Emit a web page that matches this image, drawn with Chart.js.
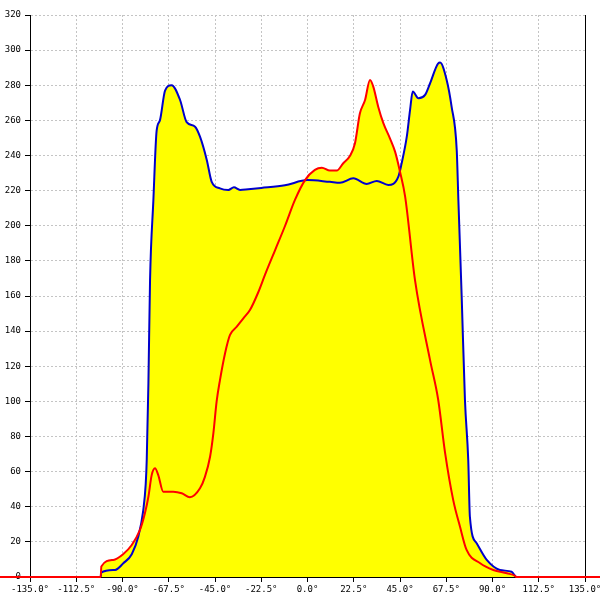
<!DOCTYPE html>
<html>
<head>
<meta charset="utf-8">
<script src="https://cdn.jsdelivr.net/npm/chart.js@4"></script>
<style>
  body { margin: 0; background: #fff; }
</style>
</head>
<body>
<canvas id="chart" width="600" height="600"></canvas>
<script>
// angles in degrees
const blueAngles = [-150, -100.6, -100.4, -93.6, -89.6, -85.5, -82.3, -79.9, -78.7, -78.2, -77.4, -76.6, -75, -73.4, -71.8, -69.3, -66.1, -62, -58.8, -54.7, -52.3, -49, -46.6, -42.6, -38.5, -35.8, -32.8, -28.8, -22.5, -11, 0, 10.9, 15.8, 22.3, 28.8, 33.7, 39.3, 44.2, 45.8, 48.3, 49.9, 51.2, 54, 57.2, 59.6, 63.6, 64.5, 67.7, 70.1, 72.6, 73.4, 75, 76.6, 78.2, 79, 82.3, 87.2, 93.6, 99.3, 101, 101.5, 150];
const blueValues = [0, 0, 2.5, 4, 7.8, 13, 23, 38, 53, 67, 110, 169, 214, 254, 260, 277, 280, 271.6, 259, 256.4, 250.7, 237.5, 225, 221.3, 220.4, 221.9, 220.4, 220.8, 221.5, 223, 226, 225, 224.5, 227, 223.8, 225.5, 223.2, 228, 235.6, 250.7, 266, 276.4, 272.6, 274.5, 281, 292.5, 292.9, 283, 267.8, 243, 214.7, 160, 100.8, 66.6, 34.3, 19.2, 9.7, 4, 3, 0.6, 0, 0];

const redAngles = [-150, -100.6, -100.3, -94.5, -89.6, -85.5, -81.5, -79.1, -77.4, -75.8, -74.2, -72.6, -70.2, -65.3, -61.2, -57.2, -52.3, -49.9, -47.4, -45.8, -44.2, -42.6, -40.1, -37.7, -34.4, -31.2, -28, -24, -20.7, -15.8, -10.9, -6.1, -1.2, 3.6, 7, 10.9, 14.2, 17.4, 20.7, 23.1, 25.5, 28, 30.4, 32, 34.4, 36.9, 40.1, 42.6, 45, 47.5, 52.3, 59.6, 63.6, 66.9, 70.9, 74.2, 77.4, 84, 90.4, 97, 101, 101.5, 150];
const redValues = [0, 0, 6, 9.7, 13.1, 18.2, 26.8, 36.3, 45.7, 58, 61.9, 58, 48.6, 48.6, 47.7, 45.4, 50.5, 57, 68.5, 81.8, 100, 112, 127.4, 137.8, 142.5, 147.3, 152, 162, 172, 186, 200, 214.7, 226, 231.8, 233, 231.4, 231.4, 235.6, 239.8, 247, 264, 271.6, 283, 279.2, 267.8, 258.4, 249.8, 242.2, 230.8, 216.6, 169, 123.6, 100.8, 71, 43.8, 28.6, 15.4, 7.8, 4, 2.1, 0.6, 0, 0];

const xTicks = { min: -135, max: 135, step: 22.5 };
const yTicks = { min: 0, max: 320, step: 20 };

const toPoints = (xs, ys) => xs.map((x, i) => ({ x: x, y: ys[i] }));
const tickFont = { family: 'DejaVu Sans Mono', size: 9 };

new Chart(document.getElementById('chart').getContext('2d'), {
  type: 'line',
  data: {
    datasets: [
      {
        data: toPoints(redAngles, redValues),
        borderColor: '#ff0000',
        backgroundColor: '#ffff00',
        borderWidth: 2,
        fill: 'origin',
        pointRadius: 0,
        cubicInterpolationMode: 'monotone',
        clip: false
      },
      {
        data: toPoints(blueAngles, blueValues),
        borderColor: '#0000cc',
        backgroundColor: '#ffff00',
        borderWidth: 2,
        fill: 'origin',
        pointRadius: 0,
        cubicInterpolationMode: 'monotone'
      }
    ]
  },
  options: {
    responsive: false,
    animation: false,
    layout: { padding: { top: 15, right: 0, left: 0, bottom: 0 } },
    plugins: {
      legend: { display: false },
      tooltip: { enabled: false },
      filler: { drawTime: 'beforeDatasetsDraw' }
    },
    scales: {
      x: {
        type: 'linear',
        min: xTicks.min,
        max: xTicks.max,
        ticks: {
          stepSize: xTicks.step,
          autoSkip: false,
          maxRotation: 0,
          padding: 2,
          color: '#000',
          font: tickFont,
          callback: v => v.toFixed(1) + '°'
        },
        grid: { color: '#c4c4c4', tickColor: '#000', tickLength: 5 },
        border: { color: '#000', dash: [2, 2] },
        afterFit: s => { s.height = 23; s.paddingLeft = 0; s.paddingRight = 0; }
      },
      y: {
        min: yTicks.min,
        max: yTicks.max,
        ticks: { stepSize: yTicks.step, padding: 4, color: '#000', font: tickFont },
        grid: { color: '#c4c4c4', tickColor: '#000', tickLength: 5 },
        border: { color: '#000', dash: [2, 2] },
        afterFit: s => { s.width = 30; s.paddingTop = 0; s.paddingBottom = 0; }
      },
      y2: {
        position: 'right',
        min: yTicks.min,
        max: yTicks.max,
        ticks: { display: false },
        grid: { drawOnChartArea: false, drawTicks: false },
        border: { color: '#000' },
        afterFit: s => { s.width = 15; }
      }
    }
  }
});
</script>
</body>
</html>
